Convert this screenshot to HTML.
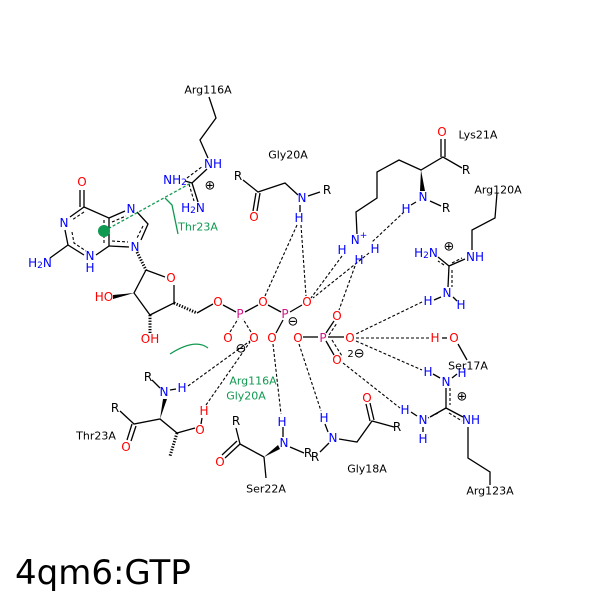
<!DOCTYPE html>
<html><head><meta charset="utf-8"><style>
html,body{margin:0;padding:0;background:#fff;}
svg{display:block;}
text{font-family:"DejaVu Sans","Liberation Sans",sans-serif;}
.a{font-size:12px;text-anchor:middle;dominant-baseline:central;}
.l{font-size:11px;text-anchor:middle;dominant-baseline:central;fill:#000;}
.b{fill:#00f}.r{fill:#f00}.p{fill:#d0158c}.g{fill:#109950}
</style></head><body>
<svg width="600" height="600" viewBox="0 0 600 600" xmlns="http://www.w3.org/2000/svg">
<rect width="600" height="600" fill="#fff"/>
<g stroke="#000" stroke-width="1.3" fill="none">
<polyline points="209,97 216,118 200,140 208,158"/>
<line x1="207" y1="169" x2="192" y2="183"/>
<line x1="185" y1="181" x2="192" y2="183"/>
<line x1="192" y1="183" x2="198" y2="202"/>
<line x1="84" y1="190" x2="84" y2="207"/><line x1="80" y1="190" x2="80" y2="207"/>
<polyline points="84,207 70,217"/>
<polyline points="65,230 68,245 84,255"/>
<polyline points="96,255 109,246 109,218 84,207"/>
<line x1="109" y1="218" x2="125" y2="211"/>
<polyline points="137,212 148,224 141,240"/>
<line x1="129" y1="247" x2="109" y2="246"/>
<line x1="68" y1="245" x2="50" y2="258"/>
<polyline points="146,270 165,277"/>
<polyline points="174,285 174,303 150,315 134,293 146,270"/>
<line x1="197" y1="313" x2="213" y2="304"/>
<line x1="223" y1="305" x2="236" y2="312"/>
<line x1="245" y1="312" x2="258" y2="305"/>
<line x1="268" y1="305" x2="281" y2="312"/>
<line x1="290" y1="312" x2="302" y2="305"/>
<line x1="276" y1="333" x2="283" y2="320"/>
<line x1="303" y1="337" x2="318" y2="337"/>
<line x1="328" y1="337" x2="344" y2="337"/>
<line x1="326" y1="333" x2="334" y2="321"/>
<line x1="326" y1="341" x2="334" y2="355"/>
<polyline points="243,180 258,192 285,183 298,195"/>
<line x1="256" y1="193" x2="253" y2="211"/><line x1="260" y1="193" x2="257" y2="211"/>
<line x1="308" y1="196" x2="320" y2="192"/>
<line x1="300" y1="205" x2="300" y2="212"/>
<line x1="441" y1="139" x2="441" y2="157"/><line x1="445" y1="139" x2="445" y2="157"/>
<polyline points="462,168 443,157 421,170 399,160 377,172 377,198 356,212 357,234"/>
<line x1="430" y1="201" x2="441" y2="206"/>
<line x1="416" y1="202" x2="411" y2="205"/>
<polyline points="497,193 495,218 472,230 472,250"/>
<line x1="465" y1="259" x2="449" y2="266"/>
<line x1="438" y1="257" x2="449" y2="266"/>
<line x1="449" y1="266" x2="448" y2="287"/>
<line x1="441" y1="297" x2="434" y2="300"/><line x1="453" y1="297" x2="457" y2="301"/>
<line x1="442" y1="338" x2="447" y2="338"/>
<line x1="458" y1="344" x2="467" y2="360"/>
<line x1="446" y1="388" x2="446" y2="408"/>
<line x1="446" y1="408" x2="430" y2="417"/>
<line x1="446" y1="408" x2="463" y2="417"/>
<line x1="440" y1="378" x2="433" y2="374"/><line x1="452" y1="378" x2="457" y2="374"/>
<line x1="417" y1="416" x2="411" y2="412"/><line x1="423" y1="427" x2="423" y2="432"/>
<polyline points="468,427 468,458 490,472 490,485"/>
<polyline points="339,439 357,442 372,421 394,427"/>
<line x1="370" y1="421" x2="366" y2="404"/><line x1="374" y1="420" x2="370" y2="403"/>
<line x1="329" y1="443" x2="320" y2="452"/>
<line x1="325" y1="424" x2="328" y2="432"/>
<line x1="290" y1="447" x2="304" y2="453"/>
<line x1="264" y1="457" x2="240" y2="444"/>
<line x1="240" y1="444" x2="236" y2="428"/>
<line x1="240" y1="444" x2="225" y2="458"/><line x1="237" y1="441" x2="222" y2="455"/>
<line x1="264" y1="457" x2="266" y2="478"/>
<line x1="283" y1="427" x2="283" y2="437"/>
<polyline points="152,380 160,388"/>
<line x1="170" y1="390" x2="176" y2="389"/>
<polyline points="120,411 134,424 160,419 177,433 195,428"/>
<line x1="132" y1="424" x2="127" y2="440"/><line x1="136" y1="426" x2="131" y2="441"/>
<line x1="201" y1="424" x2="202" y2="418"/>
</g>
<g fill="#000">
<polygon points="160,419 163,399 167,399"/>
<polygon points="421,170 420,191 425,191"/>
<polygon points="264,457 278,445 280,449"/>
<polygon points="134,293 113,295 113,299"/>
</g>
<g stroke="#000" stroke-width="3" stroke-dasharray="1.3,1.5" fill="none">
<line x1="137" y1="252" x2="146" y2="270"/>
<line x1="150" y1="315" x2="150" y2="333"/>
<line x1="174" y1="303" x2="197" y2="313"/>
<line x1="177" y1="433" x2="170" y2="456"/>
</g>
<g stroke="#000" stroke-width="1.1" stroke-dasharray="3,2" fill="none">
<polyline points="84,212 72,220"/>
<polyline points="72,232 74,243 86,251"/>
<polyline points="104,243 104,220"/>
<polyline points="112,222 126,216"/>
<polyline points="143,226 137,238"/>
<line x1="112" y1="241" x2="128" y2="242"/>
<line x1="189" y1="184" x2="194" y2="201"/>
<line x1="187" y1="178" x2="203" y2="166"/>
<line x1="444" y1="265" x2="438" y2="261"/>
<line x1="452" y1="270" x2="452" y2="287"/>
<line x1="452" y1="263" x2="462" y2="258"/>
<line x1="450" y1="388" x2="450" y2="405"/>
<line x1="449" y1="413" x2="462" y2="421"/>
<line x1="438" y1="413" x2="428" y2="418"/>
<line x1="230" y1="332" x2="238" y2="319"/>
<line x1="251" y1="332" x2="243" y2="319"/>
<line x1="329" y1="335" x2="337" y2="323"/>
<line x1="332" y1="340" x2="342" y2="356"/>
</g>
<g stroke="#000" stroke-width="1.1" stroke-dasharray="3,2" fill="none">
<line x1="297" y1="225" x2="265" y2="296"/>
<line x1="301" y1="225" x2="306" y2="296"/>
<line x1="342" y1="256" x2="311" y2="298"/>
<line x1="355" y1="266" x2="339" y2="310"/>
<line x1="404" y1="212" x2="372" y2="242"/>
<line x1="369" y1="253" x2="313" y2="298"/>
<line x1="422" y1="302" x2="356" y2="334"/>
<line x1="356" y1="338" x2="429" y2="338"/>
<line x1="356" y1="341" x2="422" y2="370"/>
<line x1="343" y1="363" x2="400" y2="408"/>
<line x1="188" y1="386" x2="250" y2="341"/>
<line x1="206" y1="405" x2="250" y2="342"/>
<line x1="273" y1="344" x2="281" y2="414"/>
<line x1="299" y1="344" x2="321" y2="411"/>
</g>
<g stroke="#109950" stroke-width="1.3" fill="none">
<line x1="104" y1="231" x2="191" y2="183" stroke-dasharray="3,2"/>
<polyline points="165,198 172,205 178,234"/>
<path d="M170,354 Q195,338 208,348"/>
</g>
<circle cx="104" cy="231" r="6" fill="#109950"/>
<g class="a">
<text x="82" y="182" class="r">O</text>
<text x="64" y="223" class="b">N</text>
<text x="90" y="256" class="b">N</text><text x="90" y="268" class="b">H</text>
<text x="40" y="263" class="b">H<tspan font-size="9" dy="3">2</tspan><tspan dy="-3">N</tspan></text>
<text x="131" y="209" class="b">N</text>
<text x="135" y="247" class="b">N</text>
<text x="171" y="278" class="r">O</text>
<text x="104" y="297" class="r">HO</text>
<text x="150" y="339" class="r">OH</text>
<text x="213" y="164" class="b">NH</text>
<text x="175" y="180" class="b">NH<tspan font-size="9" dy="3">2</tspan></text>
<text x="193" y="208" class="b">H<tspan font-size="9" dy="3">2</tspan><tspan dy="-3">N</tspan></text>
<text x="218" y="302" class="r">O</text>
<text x="240" y="314" class="p">P</text>
<text x="263" y="302" class="r">O</text>
<text x="285" y="314" class="p">P</text>
<text x="307" y="302" class="r">O</text>
<text x="228" y="338" class="r">O</text>
<text x="254" y="338" class="r">O</text>
<text x="272" y="338" class="r">O</text>
<text x="298" y="338" class="r">O</text>
<text x="323" y="338" class="p">P</text>
<text x="337" y="316" class="r">O</text>
<text x="350" y="338" class="r">O</text>
<text x="337" y="360" class="r">O</text>
<text x="254" y="217" class="r">O</text>
<text x="302" y="198" class="b">N</text>
<text x="299" y="218" class="b">H</text>
<text x="442" y="132" class="r">O</text>
<text x="423" y="197" class="b">N</text>
<text x="406" y="209" class="b">H</text>
<text x="359" y="240" class="b">N<tspan font-size="9" dy="-4">+</tspan></text>
<text x="342" y="250" class="b">H</text>
<text x="375" y="249" class="b">H</text>
<text x="359" y="260" class="b">H</text>
<text x="426" y="253" class="b">H<tspan font-size="9" dy="3">2</tspan><tspan dy="-3">N</tspan></text>
<text x="475" y="257" class="b">NH</text>
<text x="447" y="293" class="b">N</text>
<text x="428" y="301" class="b">H</text>
<text x="461" y="305" class="b">H</text>
<text x="435" y="338" class="r">H</text>
<text x="454" y="338" class="r">O</text>
<text x="446" y="382" class="b">N</text>
<text x="428" y="372" class="b">H</text>
<text x="462" y="373" class="b">H</text>
<text x="423" y="420" class="b">N</text>
<text x="405" y="410" class="b">H</text>
<text x="423" y="439" class="b">H</text>
<text x="471" y="420" class="b">NH</text>
<text x="367" y="398" class="r">O</text>
<text x="333" y="438" class="b">N</text>
<text x="324" y="418" class="b">H</text>
<text x="284" y="443" class="b">N</text>
<text x="282" y="422" class="b">H</text>
<text x="220" y="462" class="r">O</text>
<text x="164" y="392" class="b">N</text>
<text x="182" y="388" class="b">H</text>
<text x="200" y="430" class="r">O</text>
<text x="204" y="411" class="r">H</text>
<text x="126" y="447" class="r">O</text>
</g>
<g class="a" fill="#000">
<text x="238" y="176">R</text><text x="327" y="190">R</text>
<text x="466" y="170">R</text><text x="446" y="208">R</text>
<text x="397" y="427">R</text><text x="308" y="453">R</text><text x="315" y="457">R</text>
<text x="236" y="421">R</text><text x="148" y="377">R</text><text x="115" y="408">R</text>
</g>
<g class="l">
<text x="208" y="90">Arg116A</text>
<text x="288" y="155">Gly20A</text>
<text x="478" y="135">Lys21A</text>
<text x="498" y="190">Arg120A</text>
<text x="468" y="366">Ser17A</text>
<text x="490" y="491">Arg123A</text>
<text x="367" y="469">Gly18A</text>
<text x="266" y="489">Ser22A</text>
<text x="96" y="436">Thr23A</text>
</g>
<g class="l">
<text x="198" y="227" class="g">Thr23A</text>
<text x="253" y="381" class="g">Arg116A</text>
<text x="246" y="396" class="g">Gly20A</text>
</g>
<g font-size="13" text-anchor="middle" dominant-baseline="central" fill="#000">
<text x="210" y="186">⊕</text>
<text x="449" y="247">⊕</text>
<text x="462" y="397">⊕</text>
<text x="241" y="349">⊖</text>
<text x="293" y="322">⊖</text>
<text x="356" y="354"><tspan font-size="10">2</tspan>⊖</text>
</g>
<text x="15" y="584" font-size="34" font-family="DejaVu Sans, Liberation Sans, sans-serif" fill="#000">4qm6:GTP</text>
</svg>
</body></html>
